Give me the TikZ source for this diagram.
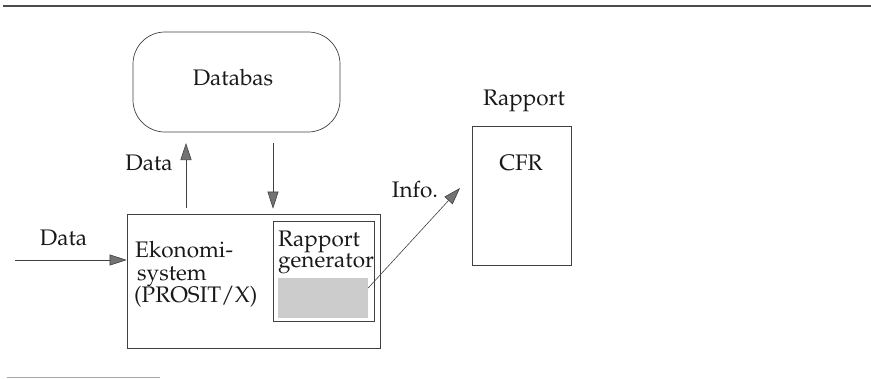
\documentclass[tikz,border=0pt]{standalone}
\usepackage[T1]{fontenc}
\usepackage{mathpazo}
\usetikzlibrary{arrows.meta}
\begin{document}
\begin{tikzpicture}[x=1pt,y=-1pt,
  every node/.style={font=\fontsize{22.5}{26}\selectfont, inner sep=0pt, text=black!90},
  box/.style={draw=black!75, line width=0.7pt},
  flow/.style={draw=black!75, line width=0.6pt, -{Triangle[length=17pt,width=11pt,fill=black!55]}},
  lbl/.style={anchor=base},
  lblw/.style={anchor=base west}
]
\useasboundingbox (0,0) rectangle (871,378);
\draw[black!70, line width=1.2pt] (3,6) -- (871,6);
\draw[black!35, line width=1pt] (7,377) -- (160,377);

% boxes
\node[box, rounded corners=32pt, minimum width=207pt, minimum height=100pt] (db) at (236.5,82) {};
\node[box, minimum width=253pt, minimum height=134pt] (main) at (253.5,281) {};
\node[box, minimum width=101pt, minimum height=100pt] (gen) at (323.5,271) {};
\node[fill=black!20, minimum width=90pt, minimum height=40pt] (shade) at (323,298) {};
\node[box, minimum width=99pt, minimum height=139pt] (rap) at (521.5,195.5) {};

% texts
\node[lbl] (dbt) at (233,85) {Databas};
\node[lbl] (datain) at (63.5,245.5) {Data};
\node[lbl] (dataup) at (149,170) {Data};
\node[lblw] (ek1) at (135,257) {Ekonomi-};
\node[lblw] (ek2) at (137,280) {system};
\node[lblw] (ek3) at (134,302) {(PROSIT/X)};
\node[anchor=north west, align=left, font=\fontsize{22.5}{17.5}\selectfont] (gentext) at (278,230.5) {Rapport\\generator};
\node[lbl] (info) at (415,197) {Info.};
\node[lbl] (raplbl) at (524,105) {Rapport};
\node[lbl] (cfr) at (521,170) {CFR};

% connectors
\coordinate (din) at (15,260);
\draw[flow] (din) -- (din -| main.west);
\coordinate (up) at (186,143);
\draw[flow, shorten <=6pt] (up |- main.north) -- (up);
\coordinate (dn) at (273,143);
\draw[flow, shorten >=5pt] (dn) -- (dn |- main.north);
\coordinate (infoend) at (460,188);
\draw[flow] ([yshift=10pt]shade.east) -- (infoend);
\end{tikzpicture}
\end{document}
